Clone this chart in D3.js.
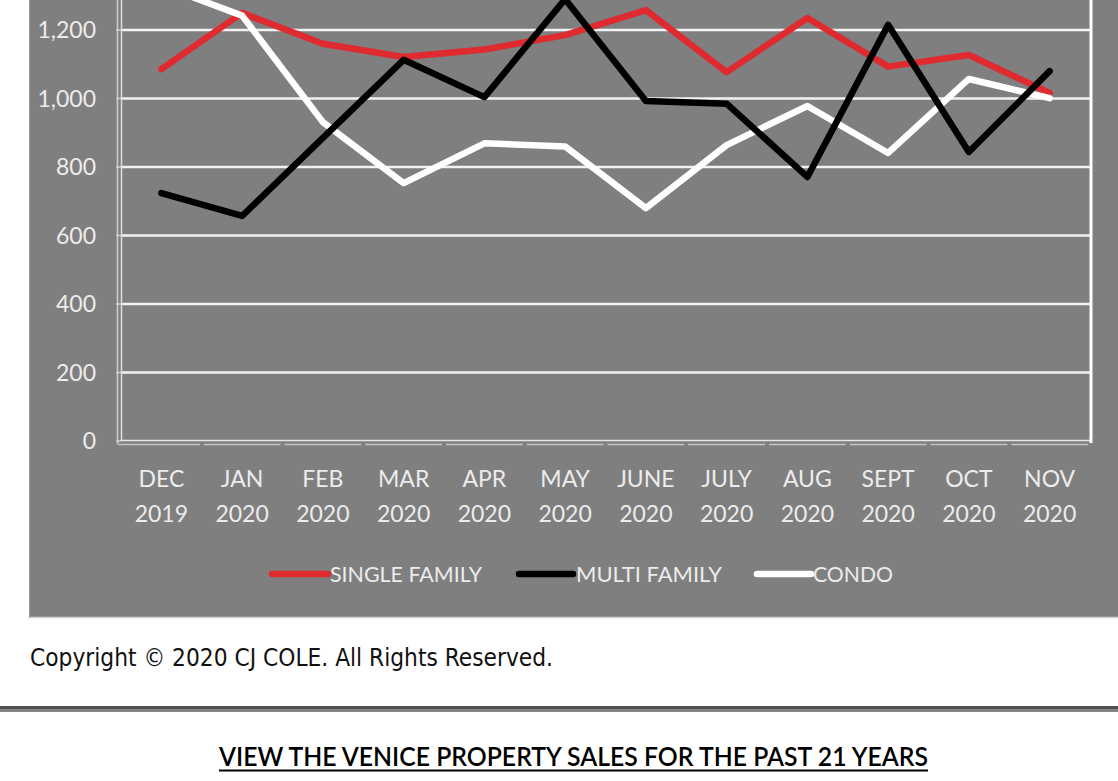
<!DOCTYPE html>
<html>
<head>
<meta charset="utf-8">
<script src="https://cdn.jsdelivr.net/npm/d3@7"></script>
<style>
  html, body { margin: 0; padding: 0; background: #fff; overflow: hidden; }
  svg { display: block; }
</style>
</head>
<body>
<div id="chart"></div>
<script>
// chart data
var months = ['DEC', 'JAN', 'FEB', 'MAR', 'APR', 'MAY', 'JUNE', 'JULY', 'AUG', 'SEPT', 'OCT', 'NOV'];
var years = ['2019', '2020', '2020', '2020', '2020', '2020', '2020', '2020', '2020', '2020', '2020', '2020'];
var singleFamily = [1086, 1250, 1160, 1121, 1143, 1185, 1258, 1077, 1235, 1093, 1127, 1016];
var multiFamily = [724, 657, 885, 1113, 1004, 1290, 993, 985, 771, 1215, 844, 1080];
var condo = [1330, 1242, 931, 753, 869, 860, 680, 864, 978, 841, 1057, 1001];
var yTicks = [0, 200, 400, 600, 800, 1000, 1200];
var seriesNames = ['SINGLE FAMILY', 'MULTI FAMILY', 'CONDO'];

var W = 1118, H = 781;
var plotLeft = 121, plotRight = 1090, plotBottom = 441;

var svg = d3.select('#chart').append('svg')
    .attr('width', W)
    .attr('height', H);

// gray chart area
svg.append('rect')
    .attr('x', 29).attr('y', -10)
    .attr('width', W - 29 + 10).attr('height', 627)
    .attr('fill', '#7f7f7f');
svg.append('line')
    .attr('x1', 29).attr('x2', W)
    .attr('y1', 617.5).attr('y2', 617.5)
    .attr('stroke', '#d4d4d4').attr('stroke-width', 1.5);
svg.append('line')
    .attr('x1', 29.5).attr('x2', 29.5)
    .attr('y1', 0).attr('y2', 618)
    .attr('stroke', '#9a9a9a').attr('stroke-width', 1);

var x = d3.scaleBand().domain(d3.range(months.length)).range([plotLeft, plotRight]);
var y = d3.scaleLinear().domain([0, 1200]).range([plotBottom, 30]);

// gridlines
svg.append('g').selectAll('line').data(yTicks.filter(function(d) { return d > 0; })).enter().append('line')
    .attr('x1', plotLeft).attr('x2', plotRight)
    .attr('y1', function(d) { return y(d); })
    .attr('y2', function(d) { return y(d); })
    .attr('stroke', '#f2f2f2')
    .attr('stroke-width', 2.5);

// small ticks on left axis
svg.append('g').selectAll('line').data(yTicks).enter().append('line')
    .attr('x1', 116).attr('x2', 121)
    .attr('y1', function(d) { return y(d); })
    .attr('y2', function(d) { return y(d); })
    .attr('stroke', '#d0d0d0')
    .attr('stroke-width', 1.5);

// left axis (double line)
svg.append('line').attr('x1', 117.5).attr('x2', 117.5).attr('y1', 0).attr('y2', 444)
    .attr('stroke', '#cfcfcf').attr('stroke-width', 1.5);
svg.append('line').attr('x1', 121.5).attr('x2', 121.5).attr('y1', 0).attr('y2', 441)
    .attr('stroke', '#dedede').attr('stroke-width', 1.5);

// bottom axis
svg.append('line').attr('x1', 121).attr('x2', plotRight + 2).attr('y1', 440.5).attr('y2', 440.5)
    .attr('stroke', '#e6e6e6').attr('stroke-width', 1.5);
svg.append('g').selectAll('line').data(d3.range(months.length)).enter().append('line')
    .attr('x1', function(d) { return x(d) + (d === 0 ? -3 : 2); })
    .attr('x2', function(d) { return x(d) + x.bandwidth() - 2; })
    .attr('y1', 444.5).attr('y2', 444.5)
    .attr('stroke', '#c4c4c4').attr('stroke-width', 1.5);

// right border
svg.append('line').attr('x1', plotRight + 1).attr('x2', plotRight + 1).attr('y1', 0).attr('y2', 443)
    .attr('stroke', '#ffffff').attr('stroke-width', 3);

// y labels
svg.append('g').selectAll('text').data(yTicks).enter().append('text')
    .attr('x', 96)
    .attr('y', function(d) { return y(d) + 8; })
    .attr('text-anchor', 'end')
    .attr('fill', '#ececec')
    .style('font-family', 'Lato, sans-serif')
    .style('font-size', '23px')
    .text(function(d) { return d3.format(',')(d); });

// x labels
var xl = svg.append('g').selectAll('text').data(months).enter().append('text')
    .attr('text-anchor', 'middle')
    .attr('fill', '#ececec')
    .style('font-family', 'Lato, sans-serif')
    .style('font-size', '23px');
xl.append('tspan')
    .attr('x', function(d, i) { return x(i) + x.bandwidth() / 2; })
    .attr('y', 487)
    .text(function(d) { return d; });
xl.append('tspan')
    .attr('x', function(d, i) { return x(i) + x.bandwidth() / 2; })
    .attr('y', 522)
    .text(function(d, i) { return years[i]; });

// lines
var line = d3.line()
    .x(function(d, i) { return x(i) + x.bandwidth() / 2; })
    .y(function(d) { return y(d); });

var series = [
  { values: singleFamily, color: '#df2a30' },
  { values: condo, color: '#ffffff' },
  { values: multiFamily, color: '#000000' }
];
svg.append('g').selectAll('path').data(series).enter().append('path')
    .attr('d', function(d) { return line(d.values); })
    .attr('fill', 'none')
    .attr('stroke', function(d) { return d.color; })
    .attr('stroke-width', 6.5)
    .attr('stroke-linejoin', 'round')
    .attr('stroke-linecap', 'round');

// legend
var legend = [
  { name: seriesNames[0], color: '#df2a30', x1: 272, x2: 328, tx: 330, tw: 152 },
  { name: seriesNames[1], color: '#000000', x1: 519, x2: 573, tx: 576, tw: 146 },
  { name: seriesNames[2], color: '#ffffff', x1: 757, x2: 811, tx: 813, tw: 80 }
];
var lg = svg.append('g').selectAll('g').data(legend).enter().append('g');
lg.append('line')
    .attr('x1', function(d) { return d.x1; })
    .attr('x2', function(d) { return d.x2; })
    .attr('y1', 574).attr('y2', 574)
    .attr('stroke', function(d) { return d.color; })
    .attr('stroke-width', 6.5)
    .attr('stroke-linecap', 'round');
lg.append('text')
    .attr('x', function(d) { return d.tx; })
    .attr('y', 582)
    .attr('textLength', function(d) { return d.tw; })
    .attr('lengthAdjust', 'spacingAndGlyphs')
    .attr('fill', '#ececec')
    .style('font-family', 'Lato, sans-serif')
    .style('font-size', '21px')
    .text(function(d) { return d.name; });

// footer
svg.append('text')
    .attr('x', 30).attr('y', 666)
    .attr('textLength', 523)
    .attr('lengthAdjust', 'spacingAndGlyphs')
    .attr('fill', '#111')
    .style('font-family', '"Liberation Sans Narrow", "DejaVu Sans Condensed", sans-serif')
    .style('font-size', '24px')
    .text('Copyright \u00a9 2020 CJ COLE. All Rights Reserved.');

svg.append('rect').attr('x', 0).attr('y', 706).attr('width', W).attr('height', 3).attr('fill', '#4f4f4f');
svg.append('rect').attr('x', 0).attr('y', 709).attr('width', W).attr('height', 3).attr('fill', '#858585');

svg.append('text')
    .attr('x', 219).attr('y', 766)
    .attr('textLength', 709)
    .attr('lengthAdjust', 'spacingAndGlyphs')
    .attr('fill', '#000')
    .style('font-family', 'Lato, sans-serif')
    .style('font-size', '26px')
    .style('font-weight', '600')
    .text('VIEW THE VENICE PROPERTY SALES FOR THE PAST 21 YEARS');
svg.append('line').attr('x1', 219).attr('x2', 928).attr('y1', 770.5).attr('y2', 770.5)
    .attr('stroke', '#000').attr('stroke-width', 2);
</script>
</body>
</html>
